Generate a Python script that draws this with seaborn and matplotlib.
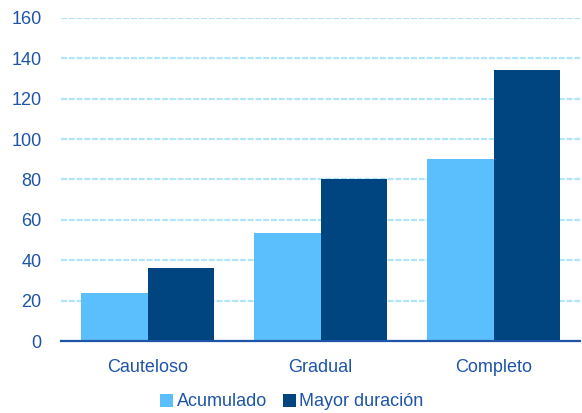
import matplotlib
matplotlib.use("Agg")
import matplotlib.pyplot as plt
import seaborn as sns
import pandas as pd
from matplotlib.ticker import FixedLocator
from matplotlib.patches import Patch

categories = ["Cauteloso", "Gradual", "Completo"]
series_names = ["Acumulado", "Mayor duración"]
acumulado = [24, 53.5, 90]
mayor_duracion = [36, 80, 134]
y_ticks = [0, 20, 40, 60, 80, 100, 120, 140, 160]

colors = ["#5BBFFE", "#004480"]
text_color = "#1F55A8"
grid_color = "#B2E5FA"

df = pd.DataFrame({
    "cat": categories * 2,
    "serie": [series_names[0]] * 3 + [series_names[1]] * 3,
    "val": acumulado + mayor_duracion,
})

sns.set_style("white")
plt.rcParams["font.family"] = ["Liberation Sans", "DejaVu Sans"]
plt.rcParams["lines.scale_dashes"] = False

fig = plt.figure(figsize=(5.82, 4.13), dpi=100)
ax = fig.add_axes([61 / 582, 1 - 341 / 413, (580 - 61) / 582, (341 - 18) / 413])

sns.barplot(data=df, x="cat", y="val", hue="serie", palette=colors,
            width=0.77, gap=0, ax=ax, legend=False, saturation=1,
            edgecolor="none", linewidth=0)

ax.set_xlim(-0.5, 2.5)
ax.set_ylim(0, 160)
ax.set_yticks(y_ticks)
ax.set_xlabel("")
ax.set_ylabel("")

ax.yaxis.grid(True, color=grid_color, linestyle=(0, (4.3, 1.3)), linewidth=1.6)
ax.set_axisbelow(True)

for s in ["left", "right", "top"]:
    ax.spines[s].set_visible(False)
ax.spines["bottom"].set_color(text_color)
ax.spines["bottom"].set_linewidth(1.6)
ax.spines["bottom"].set_zorder(5)

ax.tick_params(axis="y", length=0, pad=14, labelsize=13, labelcolor=text_color)
ax.tick_params(axis="x", which="major", length=0, pad=13, labelsize=13, labelcolor=text_color)
ax.xaxis.set_minor_locator(FixedLocator([-0.5, 0.5, 1.5, 2.5]))
ax.tick_params(axis="x", which="minor", length=5, width=1.6, color=text_color, direction="out")

handles = [Patch(facecolor=c, edgecolor="none") for c in colors]
fig.legend(handles, series_names, loc="center", bbox_to_anchor=(292 / 582, 1 - 402 / 413),
           ncol=2, frameon=False, fontsize=13, labelcolor=text_color,
           handlelength=0.7, handleheight=0.7, handletextpad=0.2, columnspacing=0.9,
           borderpad=0)

fig.savefig("out.png", dpi=100)
